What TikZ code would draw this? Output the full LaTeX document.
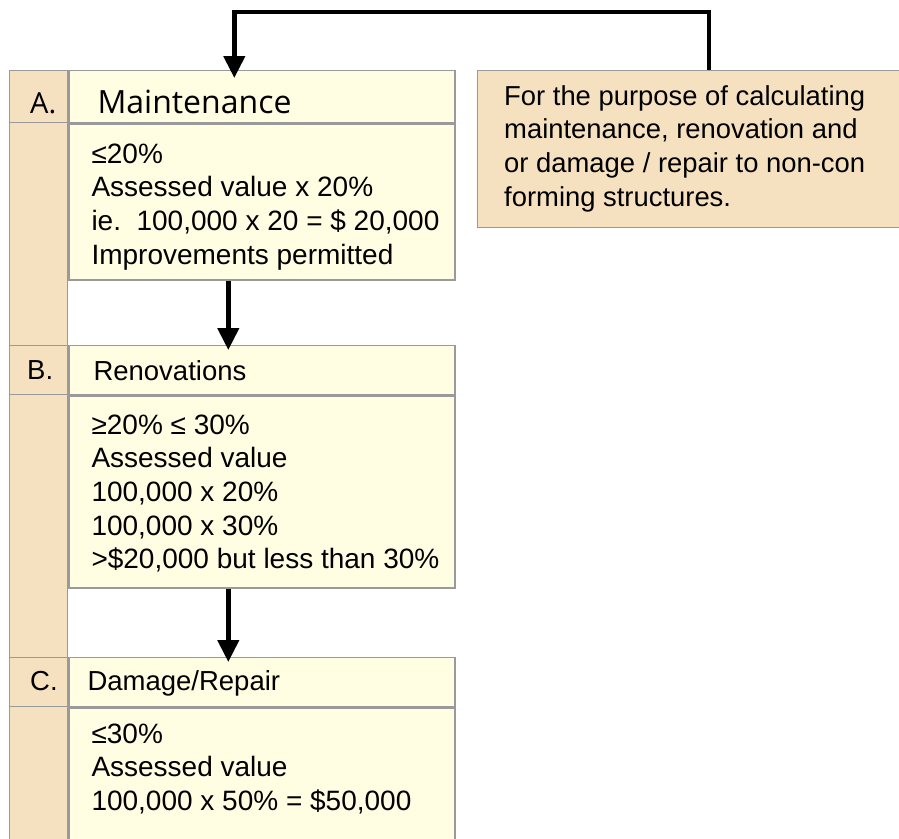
\documentclass[tikz,border=0pt]{standalone}
\usepackage{fontspec}
\setmainfont{Liberation Sans}
\newfontfamily\headfont{Open Sans}
\usetikzlibrary{arrows.meta,positioning}
\definecolor{sidetan}{HTML}{F5E0C0}
\definecolor{paleyellow}{HTML}{FFFEE3}
\definecolor{edgegray}{HTML}{9A9A9A}
\tikzset{x=1pt, y=-1pt, >={Triangle[width=21pt,length=22pt]},
cell/.style={rectangle, draw=edgegray, line width=1.3pt, inner sep=0pt, anchor=north west},
tancell/.style={cell, fill=sidetan},
yellowcell/.style={cell, fill=paleyellow, minimum width=386pt},
txt/.style={inner sep=0pt, anchor=north west, align=left, font=\fontsize{28}{33.7}\selectfont},
lbl/.style={inner sep=0pt, anchor=base west, font=\fontsize{27.5}{33.7}\selectfont},
flow/.style={->, line width=4.5pt}}

\begin{document}
\begin{tikzpicture}
    \useasboundingbox (0,0) rectangle (899,838);
    \clip (0,0) rectangle (899,838);

    % Cells
    \node[tancell, minimum width=58pt, minimum height=800pt] (strip) at (9,70) {};
    \node[tancell, minimum width=58pt, minimum height=52pt] (lblA) at (9,70) {};
    \node[yellowcell, minimum height=52pt] (headA) at (lblA.north east) {};
    \node[yellowcell, minimum height=156pt] (bodyA) at (headA.south west) {};
    \node[tancell, minimum width=58pt, minimum height=49pt] (lblB) at (9,345) {};
    \node[yellowcell, minimum height=49pt] (headB) at (lblB.north east) {};
    \node[yellowcell, minimum height=192pt] (bodyB) at (headB.south west) {};
    \node[tancell, minimum width=58pt, minimum height=49pt] (lblC) at (9,657) {};
    \node[yellowcell, minimum height=49pt] (headC) at (lblC.north east) {};
    \node[yellowcell, minimum height=170pt] (bodyC) at (headC.south west) {};
    \node[tancell, minimum width=430pt, minimum height=157pt] (note) at (477,70) {};

    % Texts
    \node[lbl, font=\headfont\fontsize{29}{35}\selectfont] (tagA) at ([shift={(21,43)}]lblA.north west) {A.};
    \node[lbl, font=\headfont\fontsize{32}{38}\selectfont] (titleA) at ([shift={(29,43)}]headA.north west) {Maintenance};
    \node[txt] (textA) at ([shift={(23,20)}]bodyA.north west) {≤20\%\\Assessed value x 20\%\\ie.\ \ 100,000 x 20 = \$ 20,000\\Improvements permitted};
    \node[lbl] (tagB) at ([shift={(18,34)}]lblB.north west) {B.};
    \node[lbl] (titleB) at ([shift={(25,35)}]headB.north west) {Renovations};
    \node[txt] (textB) at ([shift={(23,19)}]bodyB.north west) {≥20\% ≤ 30\%\\Assessed value\\100,000 x 20\%\\100,000 x 30\%\\>\$20,000 but less than 30\%};
    \node[lbl] (tagC) at ([shift={(21,33)}]lblC.north west) {C.};
    \node[lbl] (titleC) at ([shift={(19,33)}]headC.north west) {Damage/Repair};
    \node[txt] (textC) at ([shift={(23,16)}]bodyC.north west) {≤30\%\\Assessed value\\100,000 x 50\% = \$50,000};
    \node[txt, font=\fontsize{27.4}{33.7}\selectfont] (textN) at ([shift={(27,15)}]note.north west) {For the purpose of calculating\\maintenance, renovation and\\or damage / repair to non-con\\forming structures.};

    % Edges
    \draw[flow] ([xshift=232pt]note.north west) -- ++(0,-58) -| ([xshift=166pt,yshift=-8pt]headA.north west);
    \draw[flow] ([xshift=160pt]bodyA.south west) -- ([xshift=160pt,yshift=-5pt]headB.north west);
    \draw[flow] ([xshift=160pt]bodyB.south west) -- ([xshift=160pt,yshift=-5pt]headC.north west);
\end{tikzpicture}
\end{document}
